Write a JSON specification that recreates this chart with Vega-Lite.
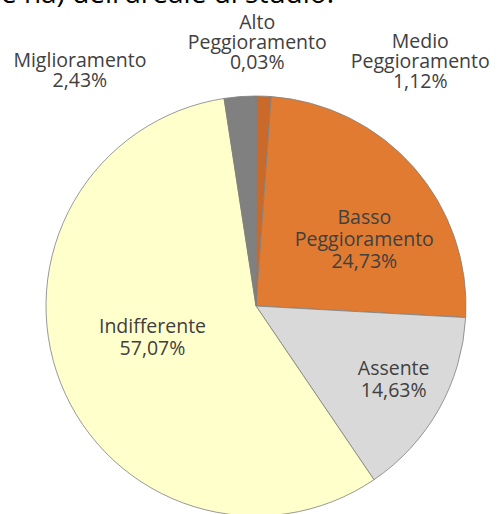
{
  "$schema": "https://vega.github.io/schema/vega-lite/v6.json",
  "autosize": "none",
  "width": 420,
  "height": 420,
  "padding": {"left": 46, "top": 96, "right": 33, "bottom": 0},
  "background": "white",
  "title": {
    "text": "e ha) dell'areale di studio.",
    "anchor": "end",
    "frame": "group",
    "dx": -132,
    "dy": 18,
    "offset": 0,
    "baseline": "alphabetic",
    "font": "Open Sans",
    "fontSize": 28,
    "fontWeight": "normal",
    "color": "#000000"
  },
  "config": {"view": {"stroke": null}},
  "data": {
    "values": [
      {"cat": "Alto Peggioramento", "value": 0.03, "ord": 1, "label": "Alto\nPeggioramento\n0,03%"},
      {"cat": "Medio Peggioramento", "value": 1.12, "ord": 2, "label": "Medio\nPeggioramento\n1,12%"},
      {"cat": "Basso Peggioramento", "value": 24.73, "ord": 3, "label": "Basso\nPeggioramento\n24,73%"},
      {"cat": "Assente", "value": 14.63, "ord": 4, "label": "Assente\n14,63%"},
      {"cat": "Indifferente", "value": 57.07, "ord": 5, "label": "Indifferente\n57,07%"},
      {"cat": "Miglioramento", "value": 2.43, "ord": 6, "label": "Miglioramento\n2,43%"}
    ]
  },
  "encoding": {
    "theta": {"field": "value", "type": "quantitative", "stack": true},
    "order": {"field": "ord", "type": "quantitative"}
  },
  "layer": [
    {
      "mark": {"type": "arc", "stroke": "#7f7f7f", "strokeWidth": 0.8},
      "encoding": {
        "color": {
          "field": "cat",
          "type": "nominal",
          "legend": null,
          "scale": {
            "domain": ["Alto Peggioramento", "Medio Peggioramento", "Basso Peggioramento", "Assente", "Indifferente", "Miglioramento"],
            "range": ["#9c4a1a", "#c96a2b", "#e07b31", "#d9d9d9", "#ffffcc", "#808080"]
          }
        }
      }
    },
    {
      "mark": {"type": "text", "radius": 127, "dx": 13, "dy": -4, "font": "Open Sans", "fontSize": 19.5, "lineHeight": 22, "lineBreak": "\n", "color": "#404040", "baseline": "middle", "align": "center"},
      "encoding": {"text": {"condition": {"test": "datum.cat === 'Basso Peggioramento'", "field": "label"}, "value": ""}}
    },
    {
      "mark": {"type": "text", "radius": 157, "dx": 1, "dy": -14, "font": "Open Sans", "fontSize": 19.5, "lineHeight": 22, "lineBreak": "\n", "color": "#404040", "baseline": "middle", "align": "center"},
      "encoding": {"text": {"condition": {"test": "datum.cat === 'Assente'", "field": "label"}, "value": ""}}
    },
    {
      "mark": {"type": "text", "radius": 108, "dx": -3, "dy": -19, "font": "Open Sans", "fontSize": 19.5, "lineHeight": 22, "lineBreak": "\n", "color": "#404040", "baseline": "middle", "align": "center"},
      "encoding": {"text": {"condition": {"test": "datum.cat === 'Indifferente'", "field": "label"}, "value": ""}}
    },
    {
      "mark": {"type": "text", "radius": 264, "dx": 1, "dy": -19, "font": "Open Sans", "fontSize": 19.5, "lineHeight": 20, "lineBreak": "\n", "color": "#404040", "baseline": "middle", "align": "center"},
      "encoding": {"text": {"condition": {"test": "datum.cat === 'Alto Peggioramento'", "field": "label"}, "value": ""}}
    },
    {
      "mark": {"type": "text", "radius": 250, "dx": 155, "dy": -14, "font": "Open Sans", "fontSize": 19.5, "lineHeight": 20, "lineBreak": "\n", "color": "#404040", "baseline": "middle", "align": "center"},
      "encoding": {"text": {"condition": {"test": "datum.cat === 'Medio Peggioramento'", "field": "label"}, "value": ""}}
    },
    {
      "mark": {"type": "text", "radius": 250, "dx": -157, "dy": 4, "font": "Open Sans", "fontSize": 19.5, "lineHeight": 20, "lineBreak": "\n", "color": "#404040", "baseline": "middle", "align": "center"},
      "encoding": {"text": {"condition": {"test": "datum.cat === 'Miglioramento'", "field": "label"}, "value": ""}}
    }
  ]
}
